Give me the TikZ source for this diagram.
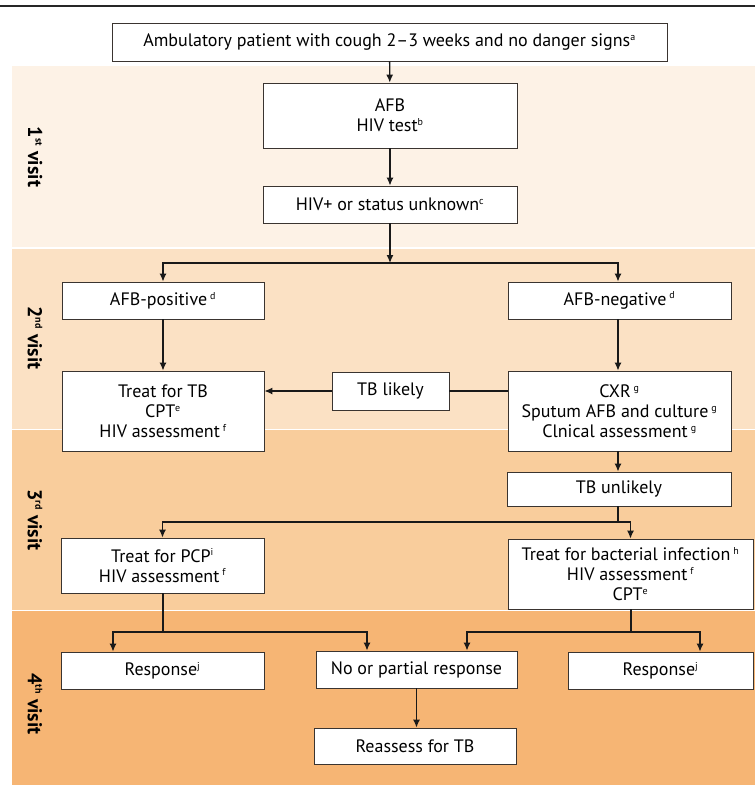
\documentclass[tikz,border=0pt]{standalone}
\usepackage{fontspec}
\setmainfont{PT Sans}
\usepackage{xcolor}
\usepackage{tikz}
\usetikzlibrary{arrows.meta}

\definecolor{visitone}{HTML}{FDF2E6}
\definecolor{visittwo}{HTML}{FBE1C4}
\definecolor{visitthree}{HTML}{F9CD9C}
\definecolor{visitfour}{HTML}{F6B574}
\definecolor{boxline}{HTML}{3A3430}

\newcommand{\sfn}[1]{\textsuperscript{\fontsize{10}{10}\selectfont #1}}

\tikzset{
  box/.style={draw=boxline, fill=white, line width=0.8pt, align=center,
    inner sep=0pt, font=\fontsize{18}{20}\selectfont},
  flow/.style={line width=1.3pt, draw=black!90, -{Latex[length=8pt,width=7pt]}},
  link/.style={line width=1.3pt, draw=black!90},
  visit/.style={rotate=-90, font=\bfseries\fontsize{20}{22}\selectfont},
}

\begin{document}
\begin{tikzpicture}[x=1pt,y=-1pt]
  \useasboundingbox (0,0) rectangle (755,785);

  % Bandas de visita
  \fill[visitone]   (12,66)  rectangle (755,247);
  \fill[visittwo]   (12,248.5) rectangle (755,428.5);
  \fill[visitthree] (12,430) rectangle (755,609.5);
  \fill[visitfour]  (12,611) rectangle (755,785);
  \draw[line width=1.5pt, black!85] (0,6) -- (755,6); % Linea superior

  \node[visit] (v1) at (35,157) {1\sfn{st} visit};
  \node[visit] (v2) at (35,338) {2\sfn{nd} visit};
  \node[visit] (v3) at (35,520) {3\sfn{rd} visit};
  \node[visit] (v4) at (35,704) {4\sfn{th} visit};

  % Cajas
  \node[box, minimum width=555, minimum height=38] (patient) at (389.5,42)
    {Ambulatory patient with cough 2--3 weeks and no danger signs\sfn{a}};
  \node[box, minimum width=254, minimum height=65] (afb) at (390,115.5)
    {AFB\\HIV test\sfn{b}};
  \node[box, minimum width=254, minimum height=37] (hiv) at (390,204.5)
    {HIV+ or status unknown\sfn{c}};
  \node[box, minimum width=202, minimum height=37] (pos) at (163,300.5)
    {AFB-positive\,\sfn{d}};
  \node[box, minimum width=223, minimum height=37] (neg) at (619.5,300.5)
    {AFB-negative\,\sfn{d}};
  \node[box, minimum width=202, minimum height=80] (treat) at (163,411)
    {Treat for TB\\CPT\sfn{e}\\HIV assessment\,\sfn{f}};
  \node[box, minimum width=117, minimum height=38] (likely) at (390.5,391)
    {TB likely};
  \node[box, minimum width=223, minimum height=80] (cxr) at (619.5,411)
    {CXR\,\sfn{g}\\Sputum AFB and culture\,\sfn{g}\\Clnical assessment\,\sfn{g}};
  \node[box, minimum width=224, minimum height=34] (unlikely) at (619,489)
    {TB unlikely};
  \node[box, minimum width=203, minimum height=55] (pcp) at (162.5,565.5)
    {Treat for PCP\sfn{i}\\HIV assessment\,\sfn{f}};
  \node[box, minimum width=245, minimum height=70] (bact) at (630.5,574)
    {Treat for bacterial infection\,\sfn{h}\\HIV assessment\,\sfn{f}\\CPT\sfn{e}};
  \node[box, minimum width=203, minimum height=37] (resp1) at (162.5,670.5)
    {Response\sfn{j}};
  \node[box, minimum width=201, minimum height=37] (nopart) at (416.5,669.5)
    {No or partial response};
  \node[box, minimum width=185, minimum height=37] (resp2) at (660.5,670.5)
    {Response\sfn{j}};
  \node[box, minimum width=202, minimum height=36] (reassess) at (415,746)
    {Reassess for TB};

  % Puntos de bifurcacion
  \coordinate (fork1) at (390,263);
  \coordinate (fork2) at (618,522);
  \coordinate (fork3) at (163,632);
  \coordinate (fork4) at (631,632);

  % Flechas
  \draw[flow] (patient) -- (afb);
  \draw[flow] (afb) -- (hiv);
  \draw[flow] (hiv) -- (fork1);
  \draw[flow] (fork1) -| (pos);
  \draw[flow] (fork1) -| ([xshift=-1.5pt]neg.north);
  \draw[flow] (pos) -- (treat);
  \draw[flow] ([xshift=-1.5pt]neg.south) -- ([xshift=-1.5pt]cxr.north);
  \draw[link] (cxr.west |- likely.east) -- (likely.east);
  \draw[flow] (likely.west) -- (likely.west -| treat.east);
  \draw[flow] ([xshift=-1.5pt]cxr.south) -- ([xshift=-1.5pt]cxr.south |- unlikely.north);
  \draw[link] (unlikely.south -| fork2) -- (fork2);
  \draw[flow] (fork2) -| (pcp);
  \draw[flow] (fork2) -| (bact);
  \draw[link] (pcp.south -| fork3) -- (fork3);
  \draw[flow] (fork3) -| ([xshift=-49.5pt]resp1.north);
  \draw[flow] (fork3) -| ([xshift=-49.5pt]nopart.north);
  \draw[link] (bact.south -| fork4) -- (fork4);
  \draw[flow] (fork4) -| ([xshift=50.5pt]nopart.north);
  \draw[flow] (fork4) -| ([xshift=39.5pt]resp2.north);
  \draw[flow] (nopart) -- (nopart.south |- reassess.north);
\end{tikzpicture}
\end{document}
